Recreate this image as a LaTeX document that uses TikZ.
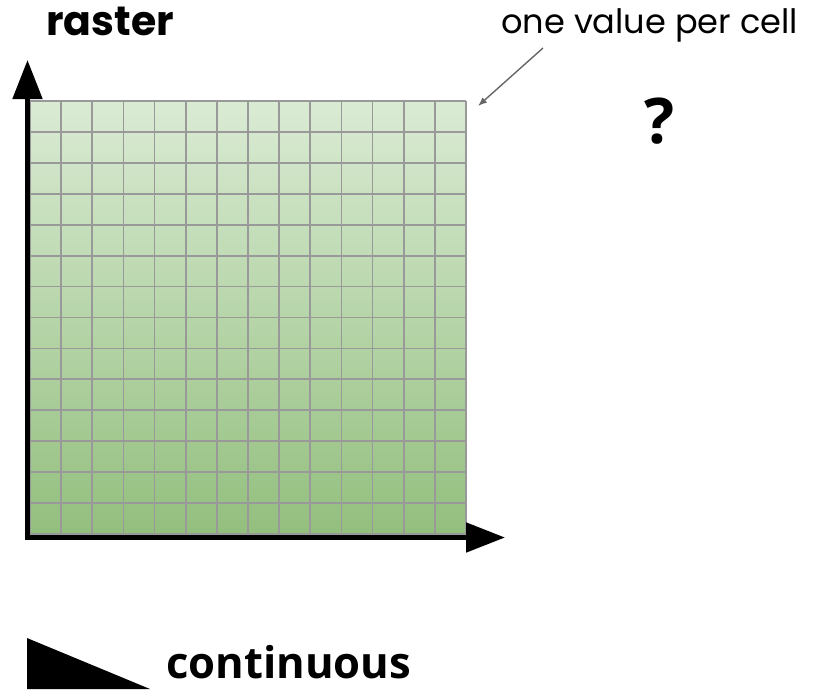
\documentclass[tikz,border=0pt]{standalone}
\usepackage{fontspec}
\setmainfont{Poppins}
\newfontfamily\opensans{Open Sans}
\usetikzlibrary{arrows.meta}
\definecolor{gtop}{HTML}{DAEBD4}
\definecolor{gbot}{HTML}{93BF7E}
\definecolor{gridgray}{HTML}{999999}
\definecolor{anngray}{HTML}{666666}
\tikzset{
  gridline/.style={gridgray, line width=1.8pt},
  axis/.style={line width=5pt, -{Triangle[length=39pt,width=29pt]}},
  annarrow/.style={anngray, line width=1.4pt, -{Latex[length=9pt,width=7pt]}},
  label/.style={inner sep=0pt, anchor=base west},
}
\begin{document}
\begin{tikzpicture}[x=1pt,y=-1pt]
\useasboundingbox (0,0) rectangle (819,689);
% grid
\shade[top color=gtop, bottom color=gbot] (30,101) rectangle (466,534);
\foreach \i in {0,...,14}{
  \draw[gridline] ({30+\i*436/14},101) -- ({30+\i*436/14},534);
  \draw[gridline] (30,{101+\i*433/14}) -- (466,{101+\i*433/14});
}
% axes
\coordinate (origin) at (27.5,540);
\coordinate (ytip) at (27.5,60);
\coordinate (xorigin) at (25,537.5);
\coordinate (xtip) at (505,537.5);
\draw[axis] (origin) -- (ytip);
\draw[axis] (xorigin) -- (xtip);
% labels
\node[label, font=\bfseries\fontsize{41}{48}\selectfont] (raster) at (46,35) {raster};
\node[label, font=\fontsize{33.6}{40}\selectfont] (ann) at (501,33) {one value per cell};
\node[inner sep=0pt, anchor=base, font=\opensans\bfseries\fontsize{63}{70}\selectfont] (q) at (660,143) {?};
\node[label, font=\opensans\bfseries\fontsize{43.6}{50}\selectfont] (cont) at (166,678) {continuous};
% annotation arrow
\coordinate (annstart) at (543,48);
\coordinate (corner) at (478,106);
\draw[annarrow] (annstart) -- (corner);
% wedge
\fill (27,638) -- (150,689) -- (27,689) -- cycle;
\end{tikzpicture}
\end{document}
